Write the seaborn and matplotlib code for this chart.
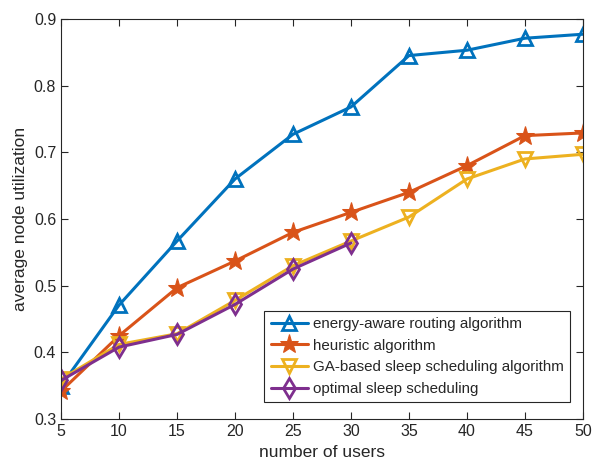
import matplotlib
matplotlib.use("Agg")
import matplotlib.pyplot as plt
import seaborn as sns
import pandas as pd

users = [5, 10, 15, 20, 25, 30, 35, 40, 45, 50]
energy_aware = [0.350, 0.471, 0.567, 0.660, 0.727, 0.768, 0.845, 0.853, 0.871, 0.877]
heuristic = [0.342, 0.425, 0.497, 0.537, 0.580, 0.610, 0.640, 0.680, 0.725, 0.729]
ga_based = [0.360, 0.412, 0.428, 0.478, 0.530, 0.567, 0.603, 0.660, 0.690, 0.697]
optimal_users = [5, 10, 15, 20, 25, 30]
optimal = [0.358, 0.408, 0.427, 0.472, 0.525, 0.564]

labels = ["energy-aware routing algorithm", "heuristic algorithm",
          "GA-based sleep scheduling algorithm", "optimal sleep scheduling"]
colors = ["#0072BD", "#D95319", "#EDB120", "#7E2F8E"]
markers = ["^", "*", "v", "d"]

sns.set_style("white")
plt.rcParams['font.family'] = ['Liberation Sans', 'DejaVu Sans']

fig = plt.figure(figsize=(5.93, 4.72), dpi=100)
ax = fig.add_axes([0.103, 0.112, 0.880, 0.848])

series = [(users, energy_aware), (users, heuristic), (users, ga_based), (optimal_users, optimal)]
for (xs, ys), lab, c, m in zip(series, labels, colors, markers):
    df = pd.DataFrame({"x": xs, "y": ys})
    if m == "*":
        kw = dict(markerfacecolor=c, markersize=14)
    else:
        kw = dict(markerfacecolor="none", markersize=10, markeredgewidth=2)
    sns.lineplot(data=df, x="x", y="y", ax=ax, color=c, linewidth=2.2,
                 marker=m, markeredgecolor=c, label=lab, **kw)

ax.set_xlim(5, 50)
ax.set_ylim(0.3, 0.9)
ax.set_xticks(users)
ax.set_yticks([0.3, 0.4, 0.5, 0.6, 0.7, 0.8, 0.9])
ax.set_yticklabels(["0.3", "0.4", "0.5", "0.6", "0.7", "0.8", "0.9"])
ax.tick_params(direction="in", length=5, labelsize=11.5, colors="#262626",
               top=True, right=True, bottom=True, left=True)
for s in ax.spines.values():
    s.set_color("#262626")
    s.set_linewidth(0.8)
ax.set_xlabel("number of users", fontsize=12.5, color="#262626")
ax.set_ylabel("average node utilization", fontsize=12.5, color="#262626")

leg = ax.legend(loc="lower right", fontsize=10.9, frameon=True, fancybox=False,
                edgecolor="#262626", framealpha=1, borderaxespad=0,
                handlelength=2.5, handletextpad=0.3, labelspacing=0.5,
                borderpad=0.4, bbox_to_anchor=(0.975, 0.043))
leg.get_frame().set_linewidth(0.8)

fig.savefig("out.png", dpi=100)
